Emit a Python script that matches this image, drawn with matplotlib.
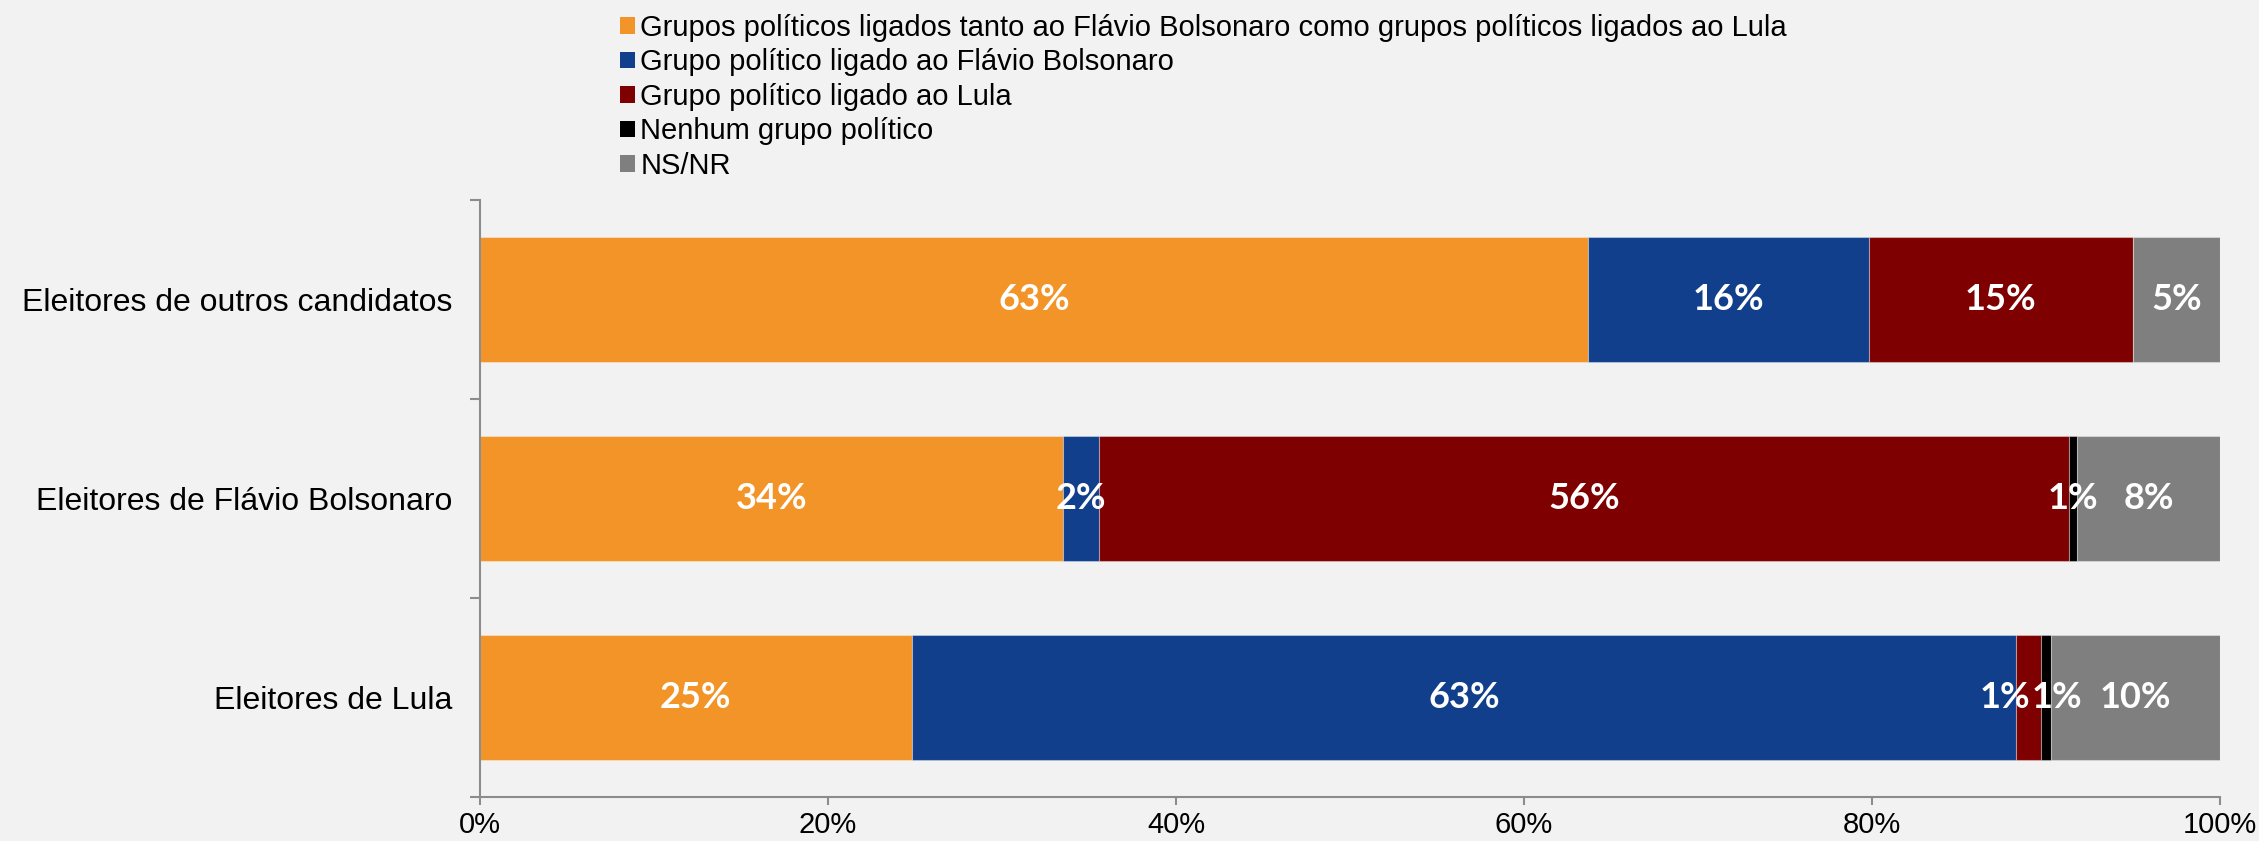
import matplotlib
matplotlib.use("Agg")
import matplotlib.pyplot as plt
from matplotlib.patches import Patch
import numpy as np

categories = ["Eleitores de Lula", "Eleitores de Flávio Bolsonaro", "Eleitores de outros candidatos"]
series_names = [
    "Grupos políticos ligados tanto ao Flávio Bolsonaro como grupos políticos ligados ao Lula",
    "Grupo político ligado ao Flávio Bolsonaro",
    "Grupo político ligado ao Lula",
    "Nenhum grupo político",
    "NS/NR",
]
# values per series, one entry per category (Lula, Flávio, outros)
ambos = [24.8, 33.5, 63.7]
flavio = [63.5, 2.1, 16.1]
lula = [1.4, 55.7, 15.2]
nenhum = [0.6, 0.5, 0.0]
nsnr = [9.7, 8.2, 5.0]
# printed labels
labels_ambos = ["25%", "34%", "63%"]
labels_flavio = ["63%", "2%", "16%"]
labels_lula = ["1%", "56%", "15%"]
labels_nenhum = ["1%", "1%", ""]
labels_nsnr = ["10%", "8%", "5%"]
xticks = [0, 20, 40, 60, 80, 100]
xtick_labels = ["0%", "20%", "40%", "60%", "80%", "100%"]

colors = ["#F29427", "#113F8C", "#7F0000", "#000000", "#7F7F7F"]
bg = "#F2F2F2"

W, H, DPI = 2259, 841, 100
fig = plt.figure(figsize=(W / DPI, H / DPI), dpi=DPI, facecolor=bg)
ax = fig.add_axes([480 / W, 1 - 797 / H, (2220 - 480) / W, (797 - 200) / H])
ax.set_facecolor(bg)

data = np.array([ambos, flavio, lula, nenhum, nsnr], dtype=float)
totals = data.sum(axis=0)
pct = data / totals * 100
labels = [labels_ambos, labels_flavio, labels_lula, labels_nenhum, labels_nsnr]

y = np.arange(len(categories))
left = np.zeros(len(categories))
label_font = dict(family="Lato", weight="bold", size=26, color="white")
# small nudges for crowded labels (series index, category index) -> px offset
nudges = {(2, 0): -24, (3, 0): 11}
for i in range(len(series_names)):
    ax.barh(y, pct[i], left=left, height=0.625, color=colors[i],
            edgecolor=(1, 1, 1, 0.35), linewidth=0.8, label=series_names[i], zorder=2)
    for j in range(len(categories)):
        txt = labels[i][j]
        if txt:
            cx = left[j] + pct[i][j] / 2
            dx = nudges.get((i, j), 0) / (2220 - 480) * 100
            ax.text(cx + dx, y[j], txt, ha="center", va="center", zorder=3, **label_font)
    left += pct[i]

ax.set_xlim(0, 100)
ax.set_ylim(-0.5, 2.5)
ax.set_xticks(xticks)
ax.set_xticklabels(xtick_labels, fontsize=21, family="Liberation Sans")
ax.set_yticks(y)
ax.set_yticklabels(categories, fontsize=23, family="Liberation Sans")
ax.set_yticks([-0.5, 0.5, 1.5, 2.5], minor=True)
ax.tick_params(axis="y", which="major", length=0, pad=20)
ax.tick_params(axis="y", which="minor", length=7, color="#8C8C8C", width=1.5)
ax.tick_params(axis="x", which="major", length=6, color="#8C8C8C", width=1.5, pad=4)

for s in ["top", "right"]:
    ax.spines[s].set_visible(False)
for s in ["left", "bottom"]:
    ax.spines[s].set_color("#8C8C8C")
    ax.spines[s].set_linewidth(1.5)

handles = [Patch(facecolor=c, edgecolor="none") for c in colors]
fig.legend(handles, series_names, loc="upper left", bbox_to_anchor=(620 / W, 1 - 14 / H),
           frameon=False, prop=dict(family="Liberation Sans", size=21),
           handlelength=0.5, handleheight=0.5, handletextpad=0.2,
           labelspacing=0.22, borderaxespad=0, borderpad=0)

fig.savefig("out.png", dpi=DPI, facecolor=bg)
